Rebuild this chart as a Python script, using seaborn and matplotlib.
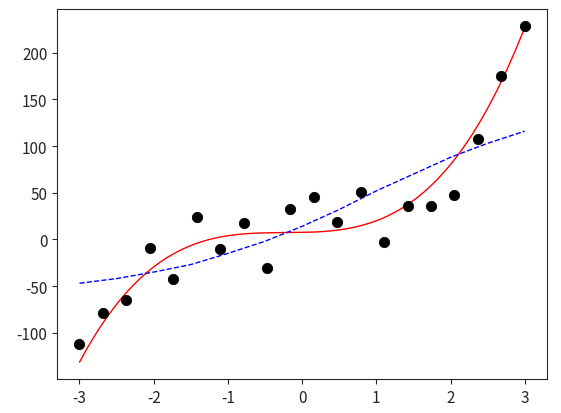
import numpy as np
import matplotlib
matplotlib.use("Agg")
import matplotlib.pyplot as plt
import seaborn as sns

# scatter data
x_pts = np.linspace(-3, 3, 20)
y_pts = [-112, -79, -65, -9, -42, 24, -10, 18, -31, 33,
         45, 19, 51, -3, 36, 36, 48, 108, 175, 229]

# solid red curve, read at coarse x positions
x_red = [-3, -2.5, -2, -1.5, -1, -0.5, 0, 0.5, 1, 1.5, 2, 2.5, 3]
y_red = [-132, -68, -30, -8, 3, 7, 9, 12, 20, 40, 80, 140, 228]

# dashed blue curve, read at coarse x positions
x_blue = [-3, -2.5, -2, -1.5, -1, -0.5, 0, 0.5, 1, 1.5, 2, 2.5, 3]
y_blue = [-47, -42, -35, -27, -15, -2, 14, 32, 52, 70, 88, 103, 116]

sns.set_style("ticks")
plt.rcParams['font.family'] = ['Noto Sans CJK SC', 'DejaVu Sans']
plt.rcParams['axes.unicode_minus'] = False

fig, ax = plt.subplots(figsize=(5.61, 4.14), dpi=100)

# smooth the read red curve with a cubic through its read values
coef = np.polyfit(x_red, y_red, 3)
xs = np.linspace(-3, 3, 200)
sns.lineplot(x=xs, y=np.polyval(coef, xs), color='red', linewidth=1, ax=ax)
sns.lineplot(x=x_blue, y=y_blue, color='blue', linewidth=1, linestyle='--', ax=ax)
sns.scatterplot(x=x_pts, y=y_pts, color='black', s=55, edgecolor='black', ax=ax, zorder=3)

ax.set_xticks([-3, -2, -1, 0, 1, 2, 3])
ax.set_yticks([-100, -50, 0, 50, 100, 150, 200])
ax.tick_params(labelsize=11)
fig.subplots_adjust(left=0.102, right=0.975, top=0.976, bottom=0.082)
fig.savefig("out.png", dpi=100)
